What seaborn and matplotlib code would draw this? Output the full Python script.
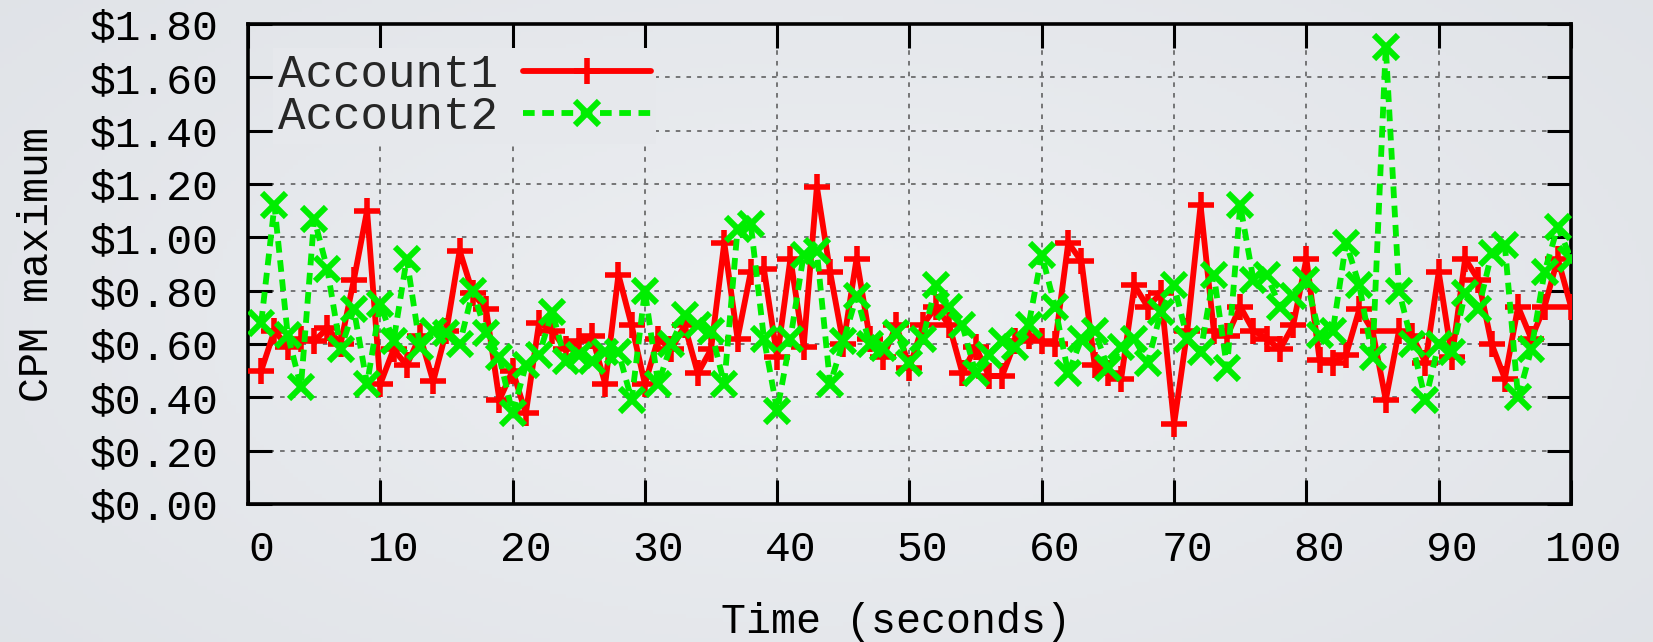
import numpy as np
import pandas as pd
import matplotlib
matplotlib.use("Agg")
import matplotlib.pyplot as plt
import matplotlib.transforms as mtransforms
from matplotlib.ticker import FuncFormatter
import seaborn as sns

# ---- data ----
time = list(range(1, 101))
account1 = [0.50, 0.65, 0.59, 0.62, 0.61, 0.66, 0.60, 0.84, 1.10, 0.45,
            0.58, 0.52, 0.63, 0.46, 0.65, 0.95, 0.79, 0.73, 0.39, 0.50,
            0.34, 0.68, 0.65, 0.58, 0.61, 0.63, 0.45, 0.86, 0.67, 0.45,
            0.62, 0.58, 0.67, 0.49, 0.58, 0.98, 0.62, 0.87, 0.88, 0.55,
            0.92, 0.59, 1.19, 0.87, 0.60, 0.92, 0.62, 0.55, 0.67, 0.51,
            0.67, 0.74, 0.67, 0.49, 0.59, 0.48, 0.48, 0.61, 0.63, 0.61,
            0.60, 0.98, 0.91, 0.52, 0.49, 0.47, 0.82, 0.74, 0.79, 0.30,
            0.65, 1.12, 0.65, 0.63, 0.74, 0.65, 0.62, 0.58, 0.67, 0.92,
            0.54, 0.53, 0.56, 0.73, 0.65, 0.39, 0.65, 0.63, 0.53, 0.87,
            0.55, 0.92, 0.84, 0.60, 0.47, 0.74, 0.62, 0.74, 0.92, 0.74]
account2 = [0.68, 1.12, 0.635, 0.44, 1.07, 0.88, 0.58, 0.73, 0.45, 0.75,
            0.61, 0.92, 0.59, 0.65, 0.64, 0.60, 0.80, 0.64, 0.55, 0.34,
            0.52, 0.56, 0.72, 0.535, 0.56, 0.535, 0.57, 0.57, 0.39, 0.80,
            0.45, 0.60, 0.71, 0.67, 0.65, 0.45, 1.03, 1.05, 0.62, 0.35,
            0.62, 0.935, 0.947, 0.45, 0.61, 0.78, 0.60, 0.585, 0.64, 0.53,
            0.62, 0.82, 0.74, 0.67, 0.49, 0.56, 0.61, 0.59, 0.67, 0.935,
            0.74, 0.49, 0.62, 0.65, 0.51, 0.59, 0.62, 0.53, 0.72, 0.82,
            0.62, 0.57, 0.86, 0.51, 1.12, 0.84, 0.86, 0.74, 0.78, 0.84,
            0.635, 0.65, 0.98, 0.82, 0.55, 1.715, 0.80, 0.60, 0.39, 0.60,
            0.57, 0.79, 0.73, 0.94, 0.97, 0.40, 0.58, 0.87, 1.04, 0.92]
series_names = ["Account1", "Account2"]
xticks = list(range(0, 101, 10))
yticks = [0.0, 0.2, 0.4, 0.6, 0.8, 1.0, 1.2, 1.4, 1.6, 1.8]

sns.set_theme(style="ticks")
plt.rcParams["font.family"] = ["Liberation Mono", "DejaVu Sans Mono"]

FS = 31
FS_LAB = 30
FS_LEG = 33
RED = "#ff0000"
GREEN = "#00ee00"

fig = plt.figure(figsize=(16.53, 6.42), dpi=100)

# soft vignette background
bgax = fig.add_axes([0, 0, 1, 1], zorder=-10)
yy, xx = np.mgrid[0:1:160j, 0:1:400j]
r = np.clip(np.sqrt(((xx - 0.5) / 0.75) ** 2 + ((yy - 0.5) / 0.95) ** 2), 0, 1)[..., None]
c_center = np.array([237, 239, 242]) / 255
c_edge = np.array([222, 225, 230]) / 255
bgax.imshow(c_center * (1 - r) + c_edge * r, extent=[0, 1, 0, 1], aspect="auto")
bgax.axis("off")

ax = fig.add_axes([0.15003, 0.21495, 0.80036, 0.74766])
ax.set_facecolor("none")

sns.lineplot(x=time, y=account1, ax=ax, color=RED, lw=4.2, marker="+",
             ms=19, mew=4.0, mec=RED, mfc=RED, label=series_names[0],
             errorbar=None, zorder=3)
sns.lineplot(x=time, y=account2, ax=ax, color=GREEN, lw=4.2, marker="x",
             ms=17, mew=4.4, mec=GREEN, mfc=GREEN, linestyle=(0, (2.0, 1.3)),
             label=series_names[1], errorbar=None, zorder=4)

ax.set_xlim(0, 100)
ax.set_ylim(0, 1.8)
ax.set_xticks(xticks)
ax.set_yticks(yticks)
ax.yaxis.set_major_formatter(FuncFormatter(lambda v, p: f"${v:.2f}"))
ax.tick_params(direction="in", length=17, width=2.2, top=True, right=True,
               labelsize=FS, colors="black")
ax.tick_params(axis="x", pad=19)
ax.tick_params(axis="y", pad=21)
offset = mtransforms.ScaledTranslation(13 / 100, 0, fig.dpi_scale_trans)
for lab in ax.get_xticklabels():
    lab.set_transform(lab.get_transform() + offset)

ax.grid(True, color="#555555", linestyle=(0, (3, 4)), lw=1.1)
ax.set_axisbelow(True)
for s in ax.spines.values():
    s.set_linewidth(2.6)
    s.set_color("black")
    s.set_visible(True)

ax.set_xlabel("Time (seconds)", fontsize=FS_LAB, color="black")
ax.xaxis.set_label_coords(0.49, -0.246)
ax.xaxis.label.set_va("center")
ax.set_ylabel("CPM maximum", fontsize=FS_LAB, color="black")
ax.yaxis.set_label_coords(-0.1595, 0.5)
ax.yaxis.label.set_va("center")

handles, labels = ax.get_legend_handles_labels()
ax.legend(handles, labels, loc="upper left", bbox_to_anchor=(0.019, 0.95),
          frameon=True, facecolor="#e6e8ec", edgecolor="none", framealpha=1,
          fancybox=False, borderpad=0.1, markerfirst=False, handlelength=2.8,
          handletextpad=0.55, labelspacing=-0.03, fontsize=FS_LEG,
          borderaxespad=0)

fig.savefig("out.png", dpi=100)
